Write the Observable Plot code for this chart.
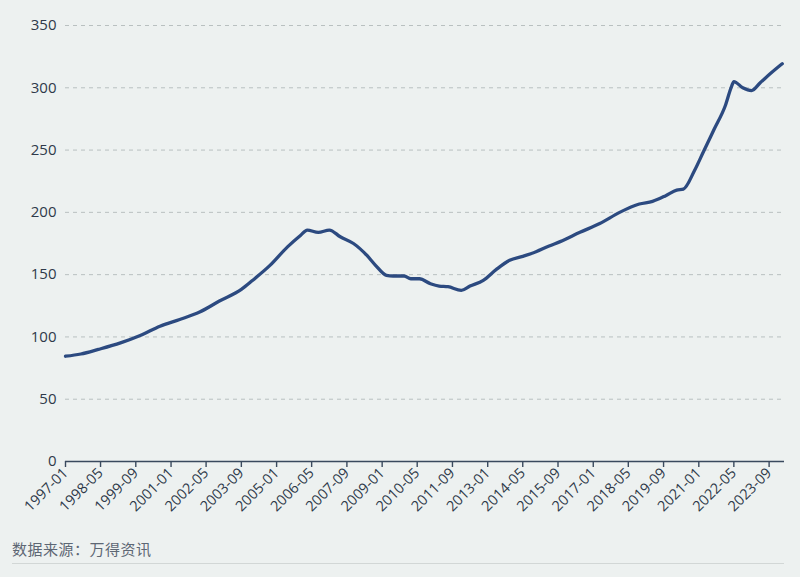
<!DOCTYPE html>
<html><head><meta charset="utf-8">
<script src="https://cdn.jsdelivr.net/npm/d3@7"></script>
<script src="https://cdn.jsdelivr.net/npm/@observablehq/plot@0.6"></script>
<style>
body{margin:0;background:#edf1f0;width:800px;height:577px;overflow:hidden;font-family:"Open Sans",sans-serif;position:relative}
#chart{position:absolute;left:0;top:0}
#src{position:absolute;left:12px;top:538px;font-size:15px;color:#5d6774;font-family:"Noto Sans CJK SC",sans-serif;letter-spacing:0.5px}
#rule{position:absolute;left:12px;top:563px;width:772px;height:1px;background:#d2d7d6}
</style></head>
<body>
<div id="chart"></div>
<div id="src">数据来源：万得资讯</div>
<div id="rule"></div>
<script>
const months = ["1997-01","1997-08","1998-04","1999-02","1999-11","2000-08","2001-05","2002-02","2002-11","2003-09","2004-02","2004-10","2005-06","2005-12","2006-03","2006-08","2007-01","2007-06","2007-12","2008-06","2008-10","2009-03","2009-06","2009-11","2010-02","2010-06","2010-11","2011-03","2011-07","2012-01","2012-05","2012-11","2013-05","2013-11","2014-05","2014-11","2015-05","2015-10","2016-07","2017-04","2018-01","2018-10","2019-04","2019-10","2020-03","2020-06","2020-11","2021-03","2021-08","2022-01","2022-04","2022-05","2022-09","2023-01","2023-05","2023-10","2024-03"];
const values = [84.5,86.3,90.0,95.2,101.1,108.6,114,120,128.8,138.2,145.3,157.4,172.3,181.7,185.8,183.9,185.8,180.4,175,165.6,157.5,149.5,148.9,148.9,146.7,146.7,142.7,140.8,140.3,137.4,140.8,145.4,154.2,161.5,164.7,168.4,173,176.5,184,191,200,206.7,208.8,213.4,217.9,218.7,233.4,248,266.7,285.4,301.4,305,300,297.8,304,312,319.3];
const xTickLabels = ["1997-01","1998-05","1999-09","2001-01","2002-05","2003-09","2005-01","2006-05","2007-09","2009-01","2010-05","2011-09","2013-01","2014-05","2015-09","2017-01","2018-05","2019-09","2021-01","2022-05","2023-09"];
const yTicks = [0,50,100,150,200,250,300,350];

const parse = d3.utcParse("%Y-%m");
const data = months.map((m,i)=>({date:parse(m), value:values[i]}));
const xTicks = xTickLabels.map(parse);

const chart = Plot.plot({
  width:800, height:520,
  marginLeft:65, marginRight:16, marginTop:25, marginBottom:59,
  style:{background:"transparent", fontFamily:"'Open Sans', sans-serif", color:"#2f3a4a"},
  x:{type:"utc", domain:[parse("1997-01"), parse("2024-04")]},
  y:{domain:[0,350]},
  marks:[
    Plot.gridY(yTicks.filter(d=>d>0),{stroke:"#b9c0c0",strokeOpacity:1,strokeDasharray:"4,4"}),
    Plot.axisY(yTicks,{tickSize:0,tickPadding:9,fontSize:15,label:null}),
    Plot.ruleY([0],{stroke:"#3a4a5e",strokeWidth:1.6}),
    Plot.axisX(xTicks,{tickFormat:d3.utcFormat("%Y-%m"),tickRotate:-45,fontSize:14.5,tickSize:6,tickPadding:3,stroke:"#3a4a5e",strokeWidth:1.4,label:null}),
    Plot.line(data,{x:"date",y:"value",stroke:"#2c4a80",strokeWidth:3.3,curve:"monotone-x"})
  ]
});
document.getElementById("chart").appendChild(chart);
</script>
</body></html>
